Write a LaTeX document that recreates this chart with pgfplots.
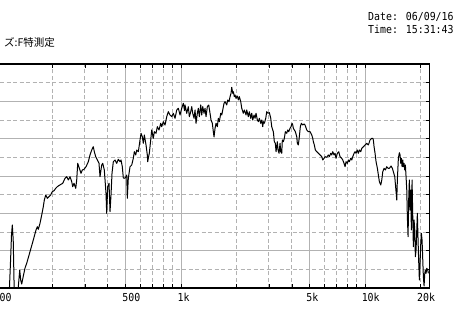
\documentclass[border=0pt]{standalone}
\usepackage{pgfplots}
\pgfplotsset{compat=1.18}
\usepackage{fontspec}
\newfontfamily\dmono[FakeStretch=0.9]{DejaVu Sans Mono}
\newfontfamily\cjk{Noto Sans CJK JP}
\definecolor{gridgray}{RGB}{178,178,178}
\begin{document}
\begin{tikzpicture}[x=1bp,y=1bp]
\useasboundingbox (0,0) rectangle (469,320);
\clip (0,0) rectangle (469,320);
\fill[white] (0,0) rectangle (469,320);
\node[anchor=base east, inner sep=0pt, font=\cjk\fontsize{10.5bp}{12bp}\selectfont] at (55,274) {ズ:F特測定};
\node[anchor=base west, inner sep=0pt, font=\dmono\fontsize{11bp}{13bp}\selectfont] at (368,299.3) {Date: 06/09/16};
\node[anchor=base west, inner sep=0pt, font=\dmono\fontsize{11bp}{13bp}\selectfont] at (368,286.7) {Time: 15:31:43};
\begin{axis}[
  at={(-58.4bp,32bp)}, anchor=south west,
  scale only axis, width=487.9bp, height=224bp,
  xmode=log, xmin=50, xmax=22400, ymin=0, ymax=60,
  xtick={100,500,1000,5000,10000},
  xticklabels={100,500,1k,5k,10k},
  extra x ticks={20000}, extra x tick labels={20k},
  extra x tick style={xmajorgrids=false},
  minor xtick={60,70,80,90,200,300,400,600,700,800,900,2000,3000,4000,6000,7000,8000,9000,20000},
  ytick={0,10,20,30,40,50,60},
  minor ytick={5,15,25,35,45,55},
  yticklabels={},
  grid=both,
  major grid style={gridgray, line width=0.8bp},
  minor grid style={gridgray, line width=0.8bp, dash pattern=on 4bp off 2.5bp},
  axis line style={line width=1.6bp, black},
  tick style={black, line width=0.6bp},
  tick align=inside, major tick length=4bp, minor tick length=4bp,
  xticklabel style={font=\dmono\fontsize{11bp}{13bp}\selectfont, anchor=north west, xshift=-3.5bp, yshift=-5.3bp, inner sep=0pt},
]
\addplot[black, line width=1bp, mark=none, line join=round] coordinates {
(115.5,-2) (116.9,0.27) (118.4,6.96) (119.9,14.20) (121.1,16.88) (122.5,12.86) (123.7,2.14) (124.5,-2.14) (129.3,-2.14) (132.9,4.82) (134.5,2.14) (136.2,1.07) (139.0,3.21) (142.0,5.36) (145.0,6.62) (151.1,9.72) (157.5,12.86) (162.9,15.54) (165.6,16.42) (167.7,15.72) (171.3,17.33) (175.0,19.56) (178.5,21.78) (180.8,23.57) (184.0,24.91) (187.7,24.03) (191.7,24.46) (195.8,24.91) (199.8,25.80) (204.1,26.06) (208.5,26.71) (212.7,27.14) (217.3,27.46)
(221.9,27.73) (227.6,28.05) (234.2,29.39) (239.2,29.82) (244.1,28.93) (249.3,29.82) (254.7,28.48) (257.9,27.14) (262.1,28.05) (267.8,26.71) (271.1,28.93) (274.6,33.40) (280.1,32.07) (286.1,30.73) (290.8,31.61) (297.1,31.80) (304.6,32.49) (313.5,33.83) (320.2,35.63) (327.1,36.97) (333.7,37.85) (337.9,36.51) (343.9,35.17) (350.9,34.29) (358.4,33.40) (362.9,29.82) (370.7,32.95) (375.4,33.40) (383.0,31.61) (391.2,25.37) (394.6,20.01) (399.6,27.14) (406.2,28.05) (411.3,20.44) (416.4,24.91) (421.7,30.73) (428.6,33.83) (437.8,34.29) (447.2,33.40) (456.3,34.48) (466.1,33.83) (472.0,34.29) (479.7,32.49) (485.7,29.47) (496.2,29.39) (506.9,30.27) (510.7,24.03) (517.1,29.39) (528.3,32.49)
(539.6,32.95) (550.5,34.74) (557.5,36.51) (567.3,35.63) (574.4,36.97) (586.1,36.51) (598.7,39.65) (606.2,41.44) (616.1,40.53) (623.9,38.76) (631.8,40.99) (645.3,38.31) (655.9,35.63) (659.2,33.83) (664.2,34.82) (672.5,36.08) (684.4,39.65) (693.0,42.33) (707.1,40.10) (716.0,41.87) (731.4,41.44) (743.4,43.21) (759.3,42.33) (775.7,44.12) (785.4,43.21) (801.3,44.55) (818.6,43.66) (836.2,45.89) (853.1,47.23) (871.5,46.34) (890.2,45.89) (908.2,46.80) (927.7,45.46) (947.7,47.68) (966.9,48.14) (987.6,46.34) (1008.8,48.14) (1029.2,49.48) (1044.8,47.5) (1051.3,49.02)
(1073.9,46.80) (1095.8,48.57) (1109.6,45.89) (1129.2,47.23) (1143.4,48.57) (1157.8,46.80) (1176.8,45.46) (1191.6,47.68) (1206.6,44.12) (1226.4,46.80) (1241.8,48.14) (1257.5,45.89) (1279.7,49.02) (1295.8,46.34) (1312.1,48.57) (1333.5,46.80) (1350.3,48.14) (1367.3,45.89) (1389.7,48.57) (1414.3,49.02) (1437.5,46.80) (1455.6,45.00) (1479.5,44.12) (1498.1,41.87) (1511.4,40.45) (1530.4,42.78) (1549.7,44.12) (1575.1,43.21) (1595.0,45.46) (1615.0,44.55) (1643.6,46.80) (1664.3,46.34) (1685.3,47.68) (1712.9,49.48) (1734.5,49.91) (1771.8,49.02) (1794.1,50.36) (1823.6,49.91) (1846.5,51.25) (1869.8,52.16) (1886.2,53.76) (1909.9,52.16) (1924.3,52.59) (1948.5,51.25) (1965.7,51.70) (1990.4,50.82) (2023.1,51.43) (2048.6,50.36) (2074.4,51.25) (2111.1,49.91) (2137.7,48.14)
(2180.9,46.80) (2208.3,47.68) (2255.8,46.34) (2275.6,47.68) (2321.6,45.89) (2350.8,47.23) (2392.4,45.46) (2422.5,46.80) (2453.0,45.00) (2493.3,46.34) (2524.6,45.46) (2556.4,46.80) (2598.3,45.00) (2631.0,44.55) (2664.1,45.46) (2711.2,44.12) (2745.5,45.00) (2780.0,43.21) (2801.0,44.55) (2836.2,44.12) (2886.4,45.46) (2922.7,47.23) (2970.7,46.80) (3019.4,46.96) (3072.8,45.46) (3111.4,43.21) (3150.6,42.33) (3174.3,41.87) (3214.2,39.19) (3254.6,38.76) (3283.2,36.51) (3337.1,39.19) (3366.5,36.97) (3408.9,36.08) (3451.8,38.76) (3482.2,36.51) (3526.0,36.08) (3552.6,39.65) (3597.3,39.19) (3642.6,40.10) (3688.5,41.87) (3753.7,41.44) (3800.9,42.33) (3848.8,41.87) (3912.0,42.78) (3961.2,43.21) (4011.0,44.12) (4046.4,43.66) (4076.8,42.78) (4128.1,42.33) (4180.1,41.87) (4253.9,40.53) (4286.0,38.76) (4339.9,38.31) (4394.5,40.53) (4449.8,43.21) (4505.8,44.12) (4585.4,43.66) (4661.0,43.93) (4719.6,43.66)
(4821.1,42.33) (4918.7,41.87) (5024.4,41.87) (5132.5,40.99) (5197.1,40.10) (5236.2,39.19) (5302.1,38.31) (5368.8,36.97) (5463.8,36.51) (5574.5,36.08) (5694.2,35.63) (5816.7,35.17) (5889.9,34.29) (5986.6,34.74) (6062.0,35.17) (6192.4,35.01) (6317.5,35.63) (6397.1,35.17) (6510.1,36.08) (6592.2,35.63) (6675.2,36.51) (6784.7,35.63) (6870.1,36.08) (6956.6,34.74) (7070.7,36.08) (7195.7,36.51) (7313.6,35.17) (7471.0,34.74) (7565.0,34.29) (7689.2,33.40) (7786.0,32.49) (7884.0,33.83) (8013.5,33.40) (8114.4,34.29) (8216.5,33.83) (8362.0,34.74) (8467.3,34.29) (8573.8,35.17) (8714.7,36.08) (8824.3,36.51) (8935.4,36.08) (9082.1,36.97) (9196.3,36.08) (9312.0,36.97) (9476.8,36.51) (9596.0,37.42) (9789.7,37.85)
(10000,38.31) (10215,38.76) (10422,38.31) (10645,39.65) (10874,40.10) (11012,40.10) (11095,39.65) (11193,37.85) (11334,36.08) (11476,33.83) (11665,32.07) (11812,30.27) (11961,28.48) (12173,27.59) (12326,28.93) (12481,31.15) (12686,32.07) (12894,31.61) (13121,32.49) (13335,32.07) (13554,32.07) (13845,32.68) (14072,32.07) (14249,31.15) (14503,29.82) (14685,26.71) (14870,23.57) (14982,28.93) (15171,34.74) (15362,36.24) (15497,35.63) (15633,33.40) (15751,34.74) (15890,32.49) (16030,34.29) (16150,32.49) (16292,33.40) (16436,31.61) (16559,32.95) (16705,29.82) (16853,26.25) (16979,19.10) (17129,13.74) (17280,24.46) (17410,28.93) (17563,20.89) (17718,26.25) (17851,15.54) (18009,28.93) (18167,19.10) (18304,11.06) (18465,18.22) (18628,15.54) (18768,8.38) (18933,10.18) (19099,15.54) (19243,20.01) (19412,12.86) (19584,6.62) (19731,2.14) (19904,6.62) (20079,11.97) (20231,14.65) (20409,12.86) (20588,7.50) (20744,3.03) (20926,0.54) (21111,3.94) (21269,4.82) (21456,3.94) (21645,5.28) (21917,4.82) (22083,3.94)
};
\end{axis}
\end{tikzpicture}
\end{document}
